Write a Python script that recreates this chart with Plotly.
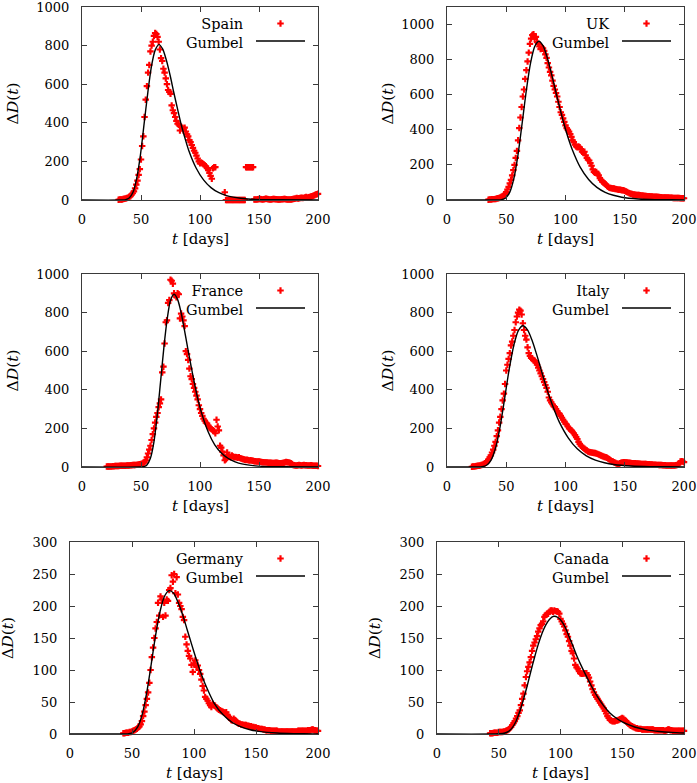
import plotly.graph_objects as go

W, H = 697, 783

# ---------------- data (daily deaths) ----------------
spain_days = list(range(31, 201))
spain_vals = [
    1, 2, 2, 3, 5, 6, 8, 10, 12, 15,
    20, 28, 35, 45, 60, 80, 100, 130, 160, 210,
    280, 330, 430, 520, 590, 660, 700, 770, 800, 820,
    850, 865, 860, 845, 820, 780, 735, 720, 680, 660,
    630, 600, 570, 560, 550, 490, 465, 450, 430, 410,
    395, 390, 360, 380, 375, 360, 375, 355, 340, 330,
    310, 300, 285, 270, 255, 245, 230, 215, 200, 190,
    195, 190, 185, 180, 175, 165, 155, 140, 125, 110,
    165, 170, 170, None, None, None, None, None, None, None,
    40, 0, 0, 0, 0, 0, 0, 0, 0, 0,
    0, 0, 0, 0, 0, 0, 0, 0, 170, 170,
    170, 170, 170, 170, 170, 3, 3, 3, 4, 5,
    5, 4, 3, 4, 5, 6, 5, 4, 3, 3,
    4, 5, 5, 4, 4, 3, 3, 3, 4, 4,
    5, 5, 4, 3, 3, 3, 3, 4, 5, 6,
    8, 10, 8, 9, 10, 12, 10, 11, 13, 15,
    12, 14, 16, 18, 20, 22, 25, 28, 30, 32,
]
spain_fit_t = [0, 33.7, 36.9, 40.0, 43.2, 46.3, 49.5, 52.6, 55.8, 58.9, 62.1, 65.2, 68.4, 71.5, 74.7,
               77.8, 81.0, 84.1, 87.3, 90.4, 96.7, 103.0, 109.3, 115.6, 121.9, 128.2, 140.8, 153.4, 166.0, 200]
spain_fit_v = [0, 0.1, 1.6, 10, 40, 111, 233, 393, 558, 694, 778, 805, 782, 724, 645,
               557, 471, 390, 320, 258, 166, 104, 64, 39, 24, 15, 5, 2, 1, 0]

uk_days = list(range(35, 201))
uk_vals = [
    2, 3, 3, 4, 5, 5, 6, 8, 10, 12,
    15, 18, 22, 28, 35, 45, 60, 75, 95, 115,
    140, 170, 200, 240, 280, 340, 410, 470, 530, 590,
    630, 690, 740, 790, 840, 890, 920, 940, 945, 920,
    930, 900, 890, 875, 860, 870, 865, 850, 830, 810,
    780, 755, 730, 710, 680, 650, 630, 610, 590, 560,
    530, 500, 485, 465, 445, 425, 410, 400, 390, 375,
    360, 340, 330, 315, 305, 300, 305, 300, 290, 275,
    270, 275, 255, 240, 230, 225, 210, 195, 175, 160,
    155, 160, 150, 140, 125, 115, 105, 100, 95, 88,
    80, 75, 70, 68, 67, 66, 65, 63, 62, 60,
    58, 58, 57, 56, 55, 52, 48, 45, 42, 38,
    36, 34, 32, 31, 30, 29, 29, 28, 27, 26,
    25, 24, 23, 23, 22, 21, 21, 20, 20, 19,
    19, 18, 18, 17, 17, 16, 16, 15, 15, 15,
    14, 14, 14, 13, 13, 13, 12, 12, 12, 11,
    11, 11, 10, 10, 10, 10,
]
uk_fit_t = [0, 42.5, 46.0, 49.5, 53.0, 56.5, 60.0, 63.5, 67.0, 70.5, 74.0, 77.5, 81.0, 84.5, 88.0,
            91.5, 95.0, 98.5, 102.0, 105.5, 112.5, 119.5, 126.5, 133.5, 140.5, 147.5, 161.5, 175.5, 189.5, 200]
uk_fit_v = [0, 0.2, 1.8, 11, 45, 125, 262, 442, 627, 780, 874, 905, 880, 814, 725,
            626, 529, 439, 359, 291, 186, 117, 72, 44, 27, 16, 6, 2, 1, 0.5]

france_days = list(range(21, 201))
france_vals = [
    2, 2, 3, 3, 3, 4, 4, 5, 5, 5,
    5, 6, 6, 6, 7, 7, 7, 8, 8, 8,
    9, 9, 10, 10, 10, 11, 12, 13, 14, 15,
    17, 20, 25, 35, 50, 70, 90, 110, 140, 170,
    200, 230, 260, 280, 310, 330, 350, 490, 520, 640,
    750, 760, 850, 865, 970, 965, 950, 900, 890, 880,
    900, 895, 770, 795, 780, 760, 730, 600, 585, 555,
    510, 470, 455, 430, 410, 390, 370, 350, 320, 300,
    280, 265, 250, 240, 230, 225, 215, 205, 200, 195,
    190, 185, 175, 245, 210, 190, 110, 100, 80, 60,
    35, 40, 75, 60, 55, 50, 60, 55, 50, 52,
    50, 48, 50, 46, 44, 42, 40, 38, 36, 38,
    35, 34, 35, 33, 32, 30, 30, 29, 28, 28,
    27, 26, 25, 25, 24, 24, 23, 22, 22, 22,
    21, 21, 21, 22, 22, 21, 20, 20, 20, 21,
    22, 24, 26, 25, 24, 22, 20, 15, 10, 9,
    8, 8, 9, 10, 9, 8, 9, 10, 9, 9,
    8, 8, 8, 9, 8, 7, 7, 6, 6, 5,
]
france_fit_t = [0, 49.3, 52.1, 55.0, 57.9, 60.8, 63.6, 66.5, 69.4, 72.3, 75.1, 78.0, 80.9, 83.8, 86.6,
                89.5, 92.4, 95.3, 98.1, 101.0, 106.8, 112.5, 118.3, 124.0, 129.8, 135.5, 147.0, 158.5, 170.0, 200]
france_fit_v = [0, 0.2, 1.7, 11, 44, 124, 259, 437, 620, 771, 865, 895, 870, 805, 717,
                619, 524, 434, 355, 287, 184, 115, 71, 44, 27, 16, 6, 2, 1, 0]

italy_days = list(range(21, 201))
italy_vals = [
    1, 2, 3, 4, 5, 6, 7, 8, 10, 12,
    15, 20, 25, 30, 40, 50, 60, 75, 90, 110,
    130, 160, 190, 230, 260, 300, 345, 380, 430, 500,
    530, 560, 590, 630, 650, 680, 710, 750, 780, 800,
    815, 810, 790, 745, 710, 680, 660, 620, 590, 575,
    565, 560, 555, 550, 540, 530, 515, 500, 485, 470,
    455, 440, 425, 410, 390, 360, 345, 335, 325, 315,
    310, 300, 290, 280, 275, 265, 255, 245, 235, 225,
    220, 210, 200, 195, 190, 182, 175, 165, 155, 145,
    130, 120, 110, 105, 100, 95, 88, 85, 80, 78,
    76, 75, 74, 73, 72, 70, 68, 65, 62, 60,
    57, 55, 52, 50, 48, 44, 40, 35, 30, 28,
    25, 22, 18, 17, 16, 20, 22, 24, 25, 25,
    24, 23, 22, 22, 21, 20, 20, 19, 19, 18,
    18, 17, 17, 16, 16, 15, 15, 15, 14, 14,
    14, 13, 13, 12, 12, 12, 11, 11, 10, 10,
    10, 9, 9, 9, 8, 8, 8, 8, 8, 8,
    8, 8, 9, 10, 12, 20, 28, 30, 28, 25,
]
italy_fit_t = [0, 25.8, 29.6, 33.4, 37.2, 41.1, 44.9, 48.7, 52.5, 56.4, 60.2, 64.0, 67.8, 71.7, 75.5,
               79.3, 83.1, 87.0, 90.8, 94.6, 102.3, 109.9, 117.6, 125.2, 132.9, 140.5, 155.8, 171.1, 186.4, 200]
italy_fit_v = [0, 0.1, 1.4, 9, 36, 101, 212, 357, 507, 631, 707, 732, 712, 658, 586,
               507, 428, 355, 291, 235, 151, 94, 58, 36, 22, 13, 5, 2, 1, 0.5]

germany_days = list(range(43, 201))
germany_vals = [
    1, 1, 2, 2, 2, 3, 3, 4,
    5, 6, 7, 8, 10, 12, 15, 20, 28, 35,
    45, 55, 65, 80, 100, 120, 135, 150, 165, 175,
    205, 185, 215, 210, 183, 205, 185, 210, 208, 225,
    228, 248, 238, 250, 220, 245, 218, 205, 200, 195,
    183, 178, 152, 140, 130, 122, 118, 108, 97, 110,
    115, 105, 107, 100, 94, 85, 75, 68, 58, 55,
    52, 48, 45, 42, 47, 45, 44, 42, 40, 38,
    37, 36, 35, 34, 33, 34, 30, 27, 25, 22,
    21, 24, 22, 20, 18, 16, 16, 15, 15, 14,
    14, 14, 13, 13, 12, 12, 11, 11, 10, 10,
    9, 9, 8, 8, 8, 7, 7, 6, 6, 6,
    6, 5, 5, 5, 5, 5, 5, 4, 4, 4,
    4, 4, 4, 4, 4, 4, 4, 4, 4, 4,
    4, 4, 4, 5, 5, 5, 5, 5, 5, 5,
    5, 6, 6, 6, 7, 7, 6, 6, 5, 5,
]
germany_fit_t = [0, 43.8, 47.4, 51.0, 54.6, 58.3, 61.9, 65.5, 69.1, 72.8, 76.4, 80.0, 83.6, 87.3, 90.9,
                 94.5, 98.1, 101.8, 105.4, 109.0, 116.3, 123.5, 130.8, 138.0, 145.3, 152.5, 167.0, 181.5, 196.0, 200]
germany_fit_v = [0, 0.04, 0.4, 2.8, 11, 31, 65, 109, 155, 193, 216, 224, 220, 205, 186,
                 163, 140, 117, 96, 78, 48, 30, 18, 11, 6.7, 4.1, 1.5, 0.6, 0.2, 0.15]

canada_days = list(range(43, 201))
canada_vals = [
    1, 1, 1, 2, 2, 2, 2, 3,
    3, 3, 3, 4, 4, 5, 6, 7, 9, 11,
    14, 17, 20, 24, 28, 33, 37, 45, 55, 63,
    76, 89, 98, 105, 112, 120, 130, 138, 143, 148,
    153, 160, 165, 170, 172, 176, 183, 186, 188, 188,
    191, 193, 193, 191, 193, 192, 192, 191, 188, 180,
    176, 172, 168, 162, 156, 152, 145, 138, 130, 126,
    118, 108, 104, 102, 98, 95, 94, 94, 95, 95,
    95, 92, 88, 82, 76, 70, 65, 61, 58, 55,
    52, 49, 46, 43, 40, 36, 32, 28, 25, 22,
    21, 20, 20, 20, 21, 21, 22, 23, 24, 25,
    24, 22, 20, 18, 16, 14, 13, 12, 11, 10,
    9, 9, 8, 8, 8, 7, 7, 7, 7, 7,
    7, 7, 7, 7, 7, 6, 6, 6, 6, 6,
    6, 6, 6, 5, 5, 6, 7, 7, 6, 6,
    5, 5, 5, 5, 5, 5, 5, 5, 5, 5,
]
canada_fit_t = [0, 50, 55, 58, 61, 64, 67, 70, 73, 76, 79, 82, 85, 88, 91, 94.5, 98, 101, 104, 107,
                110, 113, 116, 120, 125, 130, 135, 140, 145, 150, 155, 160, 170, 180, 190, 200]
canada_fit_v = [0, 0.3, 1.5, 4, 10, 20, 35, 54, 75, 98, 120, 140, 157, 170, 179, 184, 182, 176, 166, 152,
                138, 123, 110, 94, 75, 58, 44, 33, 25, 19, 14.5, 11, 6.5, 4, 2.5, 1.5]

x_ticks = [0, 50, 100, 150, 200]
y_ticks_1000 = [0, 200, 400, 600, 800, 1000]
y_ticks_300 = [0, 50, 100, 150, 200, 250, 300]

# ---------------- layout geometry (pixels) ----------------
# (name, days, vals, fit_t, fit_v, left, right, top, bottom, ymax, yticks, ytitle_x)
panels = [
    ("Spain", spain_days, spain_vals, spain_fit_t, spain_fit_v, 82, 318, 7, 200, 1000, y_ticks_1000, 12),
    ("UK", uk_days, uk_vals, uk_fit_t, uk_fit_v, 447, 684, 7, 200, 1100, y_ticks_1000, 387),
    ("France", france_days, france_vals, france_fit_t, france_fit_v, 82, 318, 274, 467, 1000, y_ticks_1000, 12),
    ("Italy", italy_days, italy_vals, italy_fit_t, italy_fit_v, 447, 684, 274, 467, 1000, y_ticks_1000, 387),
    ("Germany", germany_days, germany_vals, germany_fit_t, germany_fit_v, 70, 318, 542, 734, 300, y_ticks_300, 8),
    ("Canada", canada_days, canada_vals, canada_fit_t, canada_fit_v, 437, 684, 542, 734, 300, y_ticks_300, 375),
]

SERIF = "DejaVu Serif"
FRAME = "#3a3a3a"


def px(x):
    return x / W


def py(y):
    return 1 - y / H


fig = go.Figure()
annotations = []
layout = {}

for i, (name, days, vals, ft, fv, L, R, T, B, ymax, yt, ytx) in enumerate(panels):
    k = "" if i == 0 else str(i + 1)
    lm = "legend" if i == 0 else "legend%d" % (2 * i + 1)
    lg = "legend%d" % (2 * i + 2)
    fig.add_trace(go.Scatter(
        x=days, y=vals, mode="markers", name=" ",
        marker=dict(symbol="cross", size=5.4, color="#ff0000", line=dict(width=0)),
        cliponaxis=False, xaxis="x" + k, yaxis="y" + k, legend=lm, showlegend=True))
    fig.add_trace(go.Scatter(
        x=ft, y=fv, mode="lines", name=" ",
        line=dict(color="black", width=1.4, shape="spline", smoothing=0.8),
        xaxis="x" + k, yaxis="y" + k, legend=lg, showlegend=True))

    common = dict(showline=True, linecolor=FRAME, linewidth=1, mirror="allticks",
                  ticks="inside", ticklen=5, tickcolor=FRAME, tickwidth=1,
                  showgrid=False, zeroline=False, fixedrange=True,
                  ticklabeloverflow="allow",
                  tickfont=dict(family=SERIF, size=13, color="black"))
    layout["xaxis" + k] = dict(common, domain=[px(L), px(R)], range=[0, 200],
                               tickvals=x_ticks, anchor="y" + k, ticklabelstandoff=7)
    layout["yaxis" + k] = dict(common, domain=[py(B), py(T)], range=[0, ymax],
                               tickvals=yt, anchor="x" + k, ticklabelstandoff=9)

    # legend samples: marker row and line row
    row1 = T + 17.5
    row2 = T + 35
    layout[lm] = dict(x=px(R - 67), y=py(row1 - 15.5), xanchor="left", yanchor="top",
                      bgcolor="rgba(0,0,0,0)", borderwidth=0, font=dict(size=10),
                      itemwidth=49, tracegroupgap=0)
    layout[lg] = dict(x=px(R - 67), y=py(row2 - 15.5), xanchor="left", yanchor="top",
                      bgcolor="rgba(0,0,0,0)", borderwidth=0, font=dict(size=10),
                      itemwidth=49, tracegroupgap=0)

    # legend texts (right aligned, one block)
    annotations.append(dict(text=name + "<br>Gumbel", x=px(R - 72), y=py((row1 + row2) / 2),
                            xref="paper", yref="paper", xanchor="right", yanchor="middle",
                            align="right", showarrow=False,
                            font=dict(family=SERIF, size=14.5, color="black")))
    # axis titles
    annotations.append(dict(text="<i>t</i> [days]", x=px((L + R) / 2), y=py(B + 39), xref="paper",
                            yref="paper", xanchor="center", yanchor="middle", showarrow=False,
                            font=dict(family=SERIF, size=15, color="black")))
    annotations.append(dict(text="Δ<i>D</i>(<i>t</i>)", x=px(ytx), y=py((T + B) / 2), xref="paper",
                            yref="paper", xanchor="center", yanchor="middle", showarrow=False,
                            textangle=-90, font=dict(family=SERIF, size=15.5, color="black")))

fig.update_layout(**layout)
fig.update_layout(width=W, height=H,
                  margin=dict(l=0, r=0, t=0, b=0, autoexpand=False),
                  paper_bgcolor="white", plot_bgcolor="white",
                  annotations=annotations, showlegend=True, hovermode=False,
                  font=dict(family=SERIF, color="black"))

fig.write_html("out.html",
               config={"displayModeBar": False, "staticPlot": True},
               post_script="document.body.style.margin='0px';"
                           "document.body.style.overflow='hidden';")
